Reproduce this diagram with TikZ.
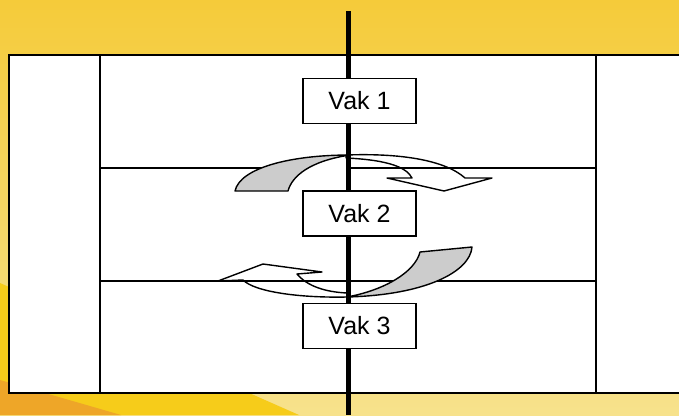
\documentclass[tikz,border=0pt]{standalone}
\usepackage{fontspec}
\setmainfont{Liberation Sans}
\definecolor{bgtop}{RGB}{245,203,58}
\definecolor{bgbot}{RGB}{247,226,140}
\definecolor{brightyel}{RGB}{246,204,26}
\definecolor{orng}{RGB}{238,166,40}
\definecolor{arrgray}{RGB}{204,204,204}
\begin{document}
\begin{tikzpicture}[x=1pt,y=-1pt,
  vak/.style={draw,line width=1.7pt,fill=white,minimum width=113pt,minimum height=45pt,inner sep=0pt,font=\fontsize{25}{30}\selectfont},
  tbl/.style={line width=1.3pt},
  band/.style={draw,line width=1.4pt,line join=round}]
\useasboundingbox (0,0) rectangle (679,415);
\clip (0,0) rectangle (679,415);
% background
\shade[top color=bgtop,bottom color=bgbot] (0,0) rectangle (679,415);
\fill[brightyel] (0,283) -- (299,415) -- (0,415) -- cycle;
\fill[orng] (0,380) -- (121,415) -- (0,415) -- cycle;
% table
\draw[line width=2.2pt,fill=white] (9,55) rectangle (700,393);
\draw[tbl] (100,55) -- (100,393);
\draw[tbl] (596,55) -- (596,393);
% white bands of curved arrows
\draw[band,fill=white] (346,155) .. controls (400,153) and (445,160) .. (465,178)
  -- (492,178) -- (444,191) -- (387,178) -- (412,178)
  .. controls (407,168) and (390,160) .. (346,158) -- cycle;
\draw[band,fill=white] (347,297) .. controls (300,298) and (255,292) .. (243,280)
  -- (218,281) -- (263,264) -- (322,272) -- (297,274)
  .. controls (307,286) and (325,292) .. (347,293) -- cycle;
% horizontal table lines
\draw[tbl] (100,168) -- (300,168);
\draw[tbl] (348,168) -- (596,168);
\draw[tbl] (100,281) -- (596,281);
% gray bands
\draw[band,fill=arrgray] (235,191) .. controls (240,168) and (290,155) .. (350,155)
  .. controls (310,161) and (292,176) .. (288,191) -- cycle;
\draw[band,fill=arrgray] (420,252) -- (472,247) .. controls (470,272) and (425,295) .. (347,297)
  .. controls (385,290) and (415,272) .. (420,252) -- cycle;
% spine
\coordinate (top) at (348,11);
\coordinate (bot) at (348,415);
\draw[line width=5pt] (top) -- (bot);
% boxes
\node[vak] (v1) at (359.5,101) {Vak 1};
\node[vak] (v2) at (359.5,213.5) {Vak 2};
\node[vak] (v3) at (359.5,326) {Vak 3};
\end{tikzpicture}
\end{document}
